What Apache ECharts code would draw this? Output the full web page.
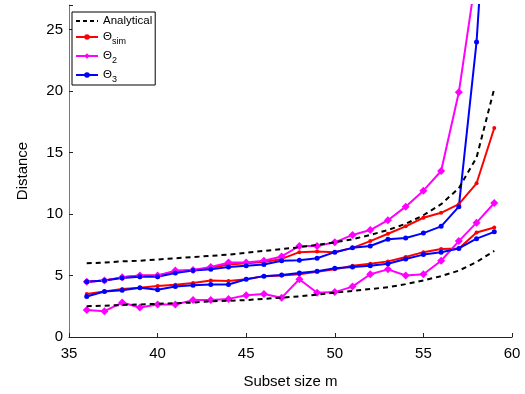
<!DOCTYPE html>
<html>
<head>
<meta charset="utf-8">
<script src="https://cdn.jsdelivr.net/npm/echarts@6/dist/echarts.min.js"></script>
<style>
html,body{margin:0;padding:0;background:#fff;}
#c{width:525px;height:394px;}
</style>
</head>
<body>
<div id="c"></div>
<script>
const subsetSize = [36,37,38,39,40,41,42,43,44,45,46,47,48,49,50,51,52,53,54,55,56,57,58,59];
const analyticalUpper = [6.0,6.05,6.15,6.2,6.3,6.4,6.5,6.6,6.7,6.85,7.0,7.15,7.3,7.5,7.7,7.95,8.3,8.7,9.2,9.9,10.8,12.1,14.6,20.2];
const analyticalLower = [2.5,2.55,2.6,2.65,2.7,2.75,2.8,2.9,2.95,3.0,3.1,3.2,3.3,3.45,3.6,3.75,3.9,4.05,4.3,4.6,4.95,5.4,6.1,7.0];
const simUpper = [4.5,4.6,4.85,5.0,5.0,5.3,5.45,5.6,5.9,6.0,6.1,6.35,6.9,6.95,6.9,7.25,7.8,8.4,9.0,9.7,10.1,10.8,12.5,17.0];
const simLower = [3.5,3.7,3.9,4.0,4.15,4.25,4.4,4.6,4.55,4.7,4.95,5.0,5.1,5.3,5.5,5.8,5.95,6.15,6.5,6.9,7.15,7.2,8.5,8.9];
const theta2Upper = [4.5,4.6,4.85,5.0,5.0,5.4,5.45,5.7,6.05,6.05,6.2,6.55,7.4,7.4,7.7,8.3,8.7,9.5,10.6,11.9,13.5,19.9,29.7,45];
const theta2Lower = [2.2,2.1,2.8,2.4,2.65,2.65,3.0,3.0,3.1,3.4,3.5,3.2,4.7,3.6,3.65,4.1,5.1,5.5,5.0,5.1,6.2,7.8,9.3,10.9];
const theta3Upper = [4.5,4.6,4.8,4.9,4.9,5.2,5.4,5.5,5.7,5.8,5.9,6.2,6.25,6.4,6.9,7.25,7.4,7.95,8.05,8.45,9.0,10.6,24.0,46];
const theta3Lower = [3.3,3.7,3.8,4.0,3.85,4.1,4.2,4.27,4.27,4.7,4.95,5.05,5.2,5.35,5.6,5.7,5.8,5.95,6.35,6.7,6.9,7.2,8.0,8.55];
const xTicks = [35,40,45,50,55,60];
const yTicks = [0,5,10,15,20,25];
const names = ['Analytical','Θsim','Θ2','Θ3'];

function pairs(ys){ return subsetSize.map((x,i)=>[x,ys[i]]); }

const chart = echarts.init(document.getElementById('c'), null, {renderer:'canvas'});
const font = 'Liberation Sans, Arial, sans-serif';

function dashSeries(data){
  return {name:names[0], type:'line', data:pairs(data), showSymbol:false, symbol:'none',
    lineStyle:{color:'#000', width:2, type:[5,4]}, itemStyle:{color:'#000'}, z:3, animation:false};
}
function markSeries(name, data, color, symbol, size){
  return {name:name, type:'line', data:pairs(data), symbol:symbol, symbolSize:size, showSymbol:true,
    lineStyle:{color:color, width:2}, itemStyle:{color:color}, z:2, animation:false, clip:true};
}

chart.setOption({
  animation:false,
  grid:{left:69, right:13, top:5, bottom:52, containLabel:false},
  legend:{
    orient:'vertical', left:72, top:12,
    data:[
      {name:names[0], itemStyle:{opacity:0}, lineStyle:{color:'#000', width:2, type:[4,3]}},
      {name:names[1]},
      {name:names[2]},
      {name:names[3]}
    ],
    backgroundColor:'#fff', borderColor:'#000', borderWidth:1, padding:[3,3,1,3],
    itemWidth:22, itemHeight:7, itemGap:4,
    textStyle:{fontFamily:font, fontSize:11.5, color:'#000',
      rich:{n:{fontFamily:font, fontSize:11.5, color:'#000'}, s:{fontFamily:font, fontSize:9, color:'#000', padding:[9,0,0,0]}}},
    formatter:function(name){
      if(name==='Θsim') return '{n|Θ}{s|sim}';
      if(name==='Θ2') return '{n|Θ}{s|2}';
      if(name==='Θ3') return '{n|Θ}{s|3}';
      return name;
    }
  },
  xAxis:{type:'value', min:35, max:60, interval:5,
    name:'Subset size m', nameLocation:'middle', nameGap:37,
    nameTextStyle:{fontFamily:font, fontSize:15, color:'#000'},
    axisLine:{lineStyle:{color:'#222', width:1}},
    axisTick:{inside:true, length:4, lineStyle:{color:'#222'}},
    axisLabel:{fontFamily:font, fontSize:15, color:'#000', margin:9,
      formatter:function(v){ return xTicks.indexOf(v)>=0 ? String(v) : ''; }},
    splitLine:{show:false}},
  yAxis:{type:'value', min:0, max:27, interval:5,
    name:'Distance', nameLocation:'middle', nameGap:39, nameRotate:90,
    nameTextStyle:{fontFamily:font, fontSize:15, color:'#000'},
    axisLine:{show:true, lineStyle:{color:'#777', width:1}},
    axisTick:{show:true, inside:true, length:4, lineStyle:{color:'#222'}},
    axisLabel:{fontFamily:font, fontSize:15, color:'#000', margin:6,
      formatter:function(v){ return yTicks.indexOf(v)>=0 ? String(v) : ''; }},
    splitLine:{show:false}},
  series:[
    dashSeries(analyticalUpper),
    dashSeries(analyticalLower),
    markSeries(names[1], simUpper, '#ff0000', 'circle', 4),
    markSeries(names[1], simLower, '#ff0000', 'circle', 4),
    markSeries(names[2], theta2Upper, '#ff00ff', 'diamond', 8),
    markSeries(names[2], theta2Lower, '#ff00ff', 'diamond', 8),
    markSeries(names[3], theta3Upper, '#0000ff', 'circle', 5),
    markSeries(names[3], theta3Lower, '#0000ff', 'circle', 5)
  ]
});
</script>
</body>
</html>
